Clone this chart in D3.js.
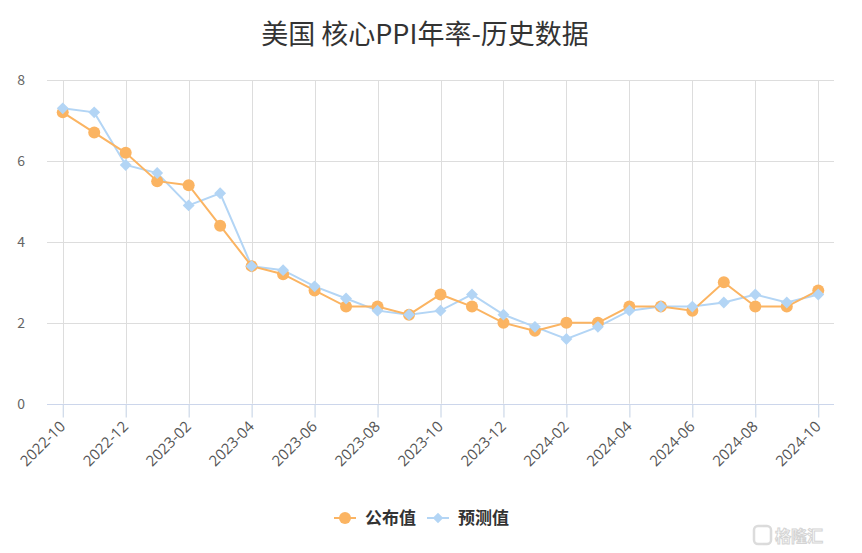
<!DOCTYPE html>
<html>
<head>
<meta charset="utf-8">
<script src="https://cdn.jsdelivr.net/npm/d3@7"></script>
<style>
  body { margin: 0; background: #fff; }
  svg { font-family: "Noto Sans CJK SC", "Open Sans", sans-serif; }
</style>
</head>
<body>
<div id="chart"></div>
<script>
const months = ['2022-10','2022-11','2022-12','2023-01','2023-02','2023-03','2023-04','2023-05',
  '2023-06','2023-07','2023-08','2023-09','2023-10','2023-11','2023-12','2024-01','2024-02',
  '2024-03','2024-04','2024-05','2024-06','2024-07','2024-08','2024-09','2024-10'];
const actual = [7.2, 6.7, 6.2, 5.5, 5.4, 4.4, 3.4, 3.2, 2.8, 2.4, 2.4, 2.2, 2.7, 2.4, 2.0, 1.8, 2.0,
  2.0, 2.4, 2.4, 2.3, 3.0, 2.4, 2.4, 2.8];
const forecast = [7.3, 7.2, 5.9, 5.7, 4.9, 5.2, 3.4, 3.3, 2.9, 2.6, 2.3, 2.2, 2.3, 2.7, 2.2, 1.9, 1.6,
  1.9, 2.3, 2.4, 2.4, 2.5, 2.7, 2.5, 2.7];
const yTicks = [0, 2, 4, 6, 8];
const title = '美国 核心PPI年率-历史数据';
const seriesNames = ['公布值', '预测值'];

const width = 862;
const height = 553;
const margin = { top: 80, bottom: 149, left: 47, right: 28 };
const orange = '#fbb462';
const blue = '#b3d5f5';

const svg = d3.select('#chart')
    .append('svg')
    .attr('width', width)
    .attr('height', height);

const x = d3.scalePoint()
    .domain(months)
    .range([margin.left, width - margin.right])
    .padding(0.5);

const y = d3.scaleLinear()
    .domain([0, 8])
    .range([height - margin.bottom - 0.3, margin.top]);

// title
svg.append('text')
    .attr('x', width / 2 - 6)
    .attr('y', 44)
    .attr('text-anchor', 'middle')
    .attr('font-size', 27)
    .attr('fill', '#333')
    .text(title);

// horizontal grid
svg.append('g')
    .selectAll('line')
    .data(yTicks.filter(d => d > 0))
    .join('line')
    .attr('x1', margin.left)
    .attr('x2', width - margin.right)
    .attr('y1', d => Math.round(y(d)) + 0.5)
    .attr('y2', d => Math.round(y(d)) + 0.5)
    .attr('stroke', '#dddddd');

// vertical grid every 2 months
const tickMonths = months.filter((d, i) => i % 2 === 0);
svg.append('g')
    .selectAll('line')
    .data(tickMonths)
    .join('line')
    .attr('x1', d => Math.round(x(d)) + 0.5)
    .attr('x2', d => Math.round(x(d)) + 0.5)
    .attr('y1', y(8))
    .attr('y2', y(0))
    .attr('stroke', '#dddddd');

// y axis labels
svg.append('g')
    .selectAll('text')
    .data(yTicks)
    .join('text')
    .attr('x', 25)
    .attr('y', d => y(d) + 5)
    .attr('text-anchor', 'end')
    .attr('font-size', 14)
    .attr('fill', '#666')
    .text(d => d);

// x axis
function xAxis(g) {
    g.attr('transform', `translate(0,${Math.round(y(0)) + 0.5})`)
        .call(d3.axisBottom(x).tickValues(tickMonths).tickSize(13).tickPadding(0))
        .call(g => g.select('.domain').remove());
    g.selectAll('.tick line').attr('stroke', '#c2d0e3');
    g.selectAll('.tick text')
        .attr('font-size', 15)
        .attr('fill', '#555')
        .attr('font-family', '"Open Sans", sans-serif')
        .attr('text-anchor', 'end')
        .attr('x', 0)
        .attr('y', 0)
        .attr('dy', 0)
        .attr('transform', 'translate(3,23) rotate(-45)');
}
svg.append('g').call(xAxis);
svg.append('line')
    .attr('x1', margin.left)
    .attr('x2', width - margin.right)
    .attr('y1', Math.round(y(0)) + 0.5)
    .attr('y2', Math.round(y(0)) + 0.5)
    .attr('stroke', '#ccd6eb');

const line = d3.line()
    .x((d, i) => x(months[i]))
    .y(d => y(d));

// forecast series
svg.append('path')
    .datum(forecast)
    .attr('fill', 'none')
    .attr('stroke', blue)
    .attr('stroke-width', 2)
    .attr('d', line);

// actual series
svg.append('path')
    .datum(actual)
    .attr('fill', 'none')
    .attr('stroke', orange)
    .attr('stroke-width', 2)
    .attr('d', line);

svg.append('g')
    .selectAll('circle')
    .data(actual)
    .join('circle')
    .attr('cx', (d, i) => x(months[i]))
    .attr('cy', d => y(d))
    .attr('r', 6)
    .attr('fill', orange);

const diamond = d3.symbol().type(d3.symbolDiamond2).size(90);
svg.append('g')
    .selectAll('path')
    .data(forecast)
    .join('path')
    .attr('transform', (d, i) => `translate(${x(months[i])},${y(d)})`)
    .attr('d', diamond)
    .attr('fill', blue);

// legend
const legend = svg.append('g').attr('transform', 'translate(0,518)');
const legendItems = [
    { name: seriesNames[0], color: orange, x: 334, shape: 'circle' },
    { name: seriesNames[1], color: blue, x: 427, shape: 'diamond' }
];
legendItems.forEach(item => {
    const g = legend.append('g').attr('transform', `translate(${item.x},0)`);
    g.append('line').attr('x1', 0).attr('x2', 22).attr('stroke', item.color).attr('stroke-width', 2);
    if (item.shape === 'circle') {
        g.append('circle').attr('cx', 11).attr('r', 6).attr('fill', item.color);
    } else {
        g.append('path').attr('transform', 'translate(11,0)')
            .attr('d', d3.symbol().type(d3.symbolDiamond2).size(70)).attr('fill', item.color);
    }
    g.append('text')
        .attr('x', 31)
        .attr('y', 6)
        .attr('font-size', 17)
        .attr('font-weight', 'bold')
        .attr('fill', '#333')
        .text(item.name);
});

// watermark
const wm = svg.append('g').attr('transform', 'translate(754,526)').attr('opacity', 0.9);
wm.append('rect')
    .attr('x', 0).attr('y', 0).attr('width', 17).attr('height', 18).attr('rx', 4)
    .attr('fill', 'none').attr('stroke', '#d8d8d8').attr('stroke-width', 2.5);
wm.append('text')
    .attr('x', 21).attr('y', 16)
    .attr('font-size', 16)
    .attr('font-weight', 'bold')
    .attr('fill', '#fff')
    .attr('stroke', '#d0d0d0')
    .attr('stroke-width', 1)
    .text('格隆汇');
</script>
</body>
</html>
